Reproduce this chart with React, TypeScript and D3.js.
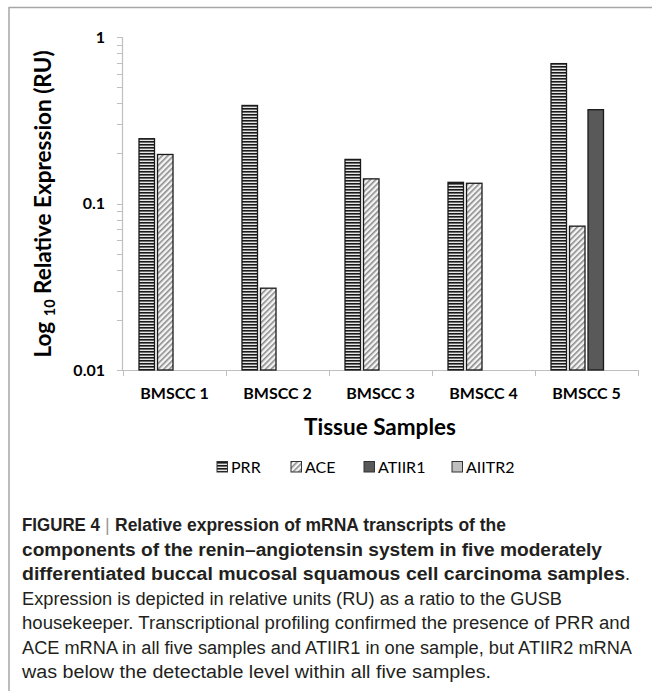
import React from 'react';
import * as d3 from 'd3';

const samples = ['BMSCC 1', 'BMSCC 2', 'BMSCC 3', 'BMSCC 4', 'BMSCC 5'];
const series = ['PRR', 'ACE', 'ATIIR1', 'AIITR2'];
// relative expression (RU); null = below detection
const prr = [0.245, 0.388, 0.184, 0.134, 0.692];
const ace = [0.197, 0.031, 0.1406, 0.1323, 0.0731];
const atiir1 = [null, null, null, null, 0.366];
const aiitr2 = [null, null, null, null, null];
const yTickLabels = ['0.01', '0.1', '1'];

const captionBold = [
  'Relative expression of mRNA transcripts of the',
  'components of the renin\u2013angiotensin system in five moderately',
  'differentiated buccal mucosal squamous cell carcinoma samples',
];
const captionPlain = [
  'Expression is depicted in relative units (RU) as a ratio to the GUSB',
  'housekeeper. Transcriptional profiling confirmed the presence of PRR and',
  'ACE mRNA in all five samples and ATIIR1 in one sample, but ATIIR2 mRNA',
  'was below the detectable level within all five samples.',
];
const captionWidths = [391, 580, 603, 540, 608, 610, 469];

const values = [prr, ace, atiir1, aiitr2];
const fills = ['url(#pat-prr)', 'url(#pat-ace)', '#595959', '#bfbfbf'];

const W = 652;
const H = 691;
const chartFont = 'Lato, "Open Sans", sans-serif';
const capFont = '"Liberation Sans", Arial, sans-serif';
const legendX = [217, 291, 364, 452];

export default function App() {
  const x = d3.scaleBand().domain(samples).range([123, 638]).padding(0);
  const inner = d3
    .scaleBand()
    .domain(series)
    .range([0, x.bandwidth()])
    .paddingInner(0.162)
    .paddingOuter(0.865);
  const y = d3.scaleLog().domain([0.01, 1]).range([370, 37]);
  const ticks = y.ticks();
  const bounds = [...samples.map(s => x(s)!), 638];

  const lineY = (i: number) => 531 + i * 24.5;

  return (
    <svg
      width={W}
      height={H}
      style={{ position: 'absolute', left: 0, top: 0, background: '#fff' }}
    >
      <defs>
        <pattern id="pat-prr" width="4" height="3" patternUnits="userSpaceOnUse">
          <rect width="4" height="3" fill="#e6e6e6" />
          <rect y="0" width="4" height="1.6" fill="#1a1a1a" />
        </pattern>
        <pattern
          id="pat-ace"
          width="4"
          height="4"
          patternUnits="userSpaceOnUse"
          patternTransform="rotate(45)"
        >
          <rect width="4" height="4" fill="#f4f4f4" />
          <rect x="0" width="1.6" height="4" fill="#8c8c8c" />
        </pattern>
      </defs>

      {/* frame */}
      <line x1={9} x2={W} y1={7.5} y2={7.5} stroke="#a6a6a6" strokeWidth={1.5} />
      <line x1={9} x2={9} y1={7} y2={H} stroke="#a6a6a6" strokeWidth={1.5} />

      {/* y axis */}
      <line x1={122.5} x2={122.5} y1={y(1)} y2={y(0.01)} stroke="#bfbfbf" strokeWidth={1.2} />
      {ticks.map((t, i) => (
        <line
          key={i}
          x1={117}
          x2={122.5}
          y1={Math.round(y(t)) + 0.5}
          y2={Math.round(y(t)) + 0.5}
          stroke="#bfbfbf"
          strokeWidth={1}
        />
      ))}
      {yTickLabels.map(l => (
        <text
          key={l}
          x={105}
          y={y(+l)}
          dy="0.35em"
          textAnchor="end"
          fontFamily={chartFont}
          fontWeight="bold"
          fontSize={16}
        >
          {l}
        </text>
      ))}

      {/* x axis */}
      <line x1={122} x2={638.5} y1={370.5} y2={370.5} stroke="#bfbfbf" strokeWidth={1.2} />
      {bounds.map((b, i) => (
        <line key={i} x1={b + 0.5} x2={b + 0.5} y1={370} y2={376} stroke="#bfbfbf" strokeWidth={1} />
      ))}

      {/* bars */}
      {samples.map((s, ci) =>
        series.map((k, si) => {
          const v = values[si][ci];
          if (v == null) return null;
          const bx = x(s)! + inner(k)!;
          return (
            <rect
              key={s + k}
              x={bx}
              y={y(v)}
              width={inner.bandwidth()}
              height={y(0.01) - y(v)}
              fill={fills[si]}
              stroke="#1a1a1a"
              strokeWidth={1.3}
            />
          );
        })
      )}

      {/* x labels */}
      {samples.map(s => (
        <text
          key={s}
          x={x(s)! + x.bandwidth() / 2}
          y={399}
          textAnchor="middle"
          fontFamily={chartFont}
          fontWeight="bold"
          fontSize={16}
        >
          {s}
        </text>
      ))}
      <text
        x={380}
        y={435}
        textAnchor="middle"
        fontFamily={chartFont}
        fontWeight="bold"
        fontSize={22.5}
      >
        Tissue Samples
      </text>

      {/* y title */}
      <text
        transform="translate(51,204) rotate(-90)"
        textAnchor="middle"
        fontFamily={chartFont}
        fontWeight="bold"
        fontSize={22.5}
      >
        Log <tspan fontSize={14.5} dy={4}>10</tspan>
        <tspan dy={-4}> Relative Expression (RU)</tspan>
      </text>

      {/* legend */}
      {series.map((k, i) => (
        <g key={k}>
          <rect
            x={legendX[i]}
            y={461.5}
            width={10.5}
            height={10.5}
            fill={fills[i]}
            stroke="#333"
            strokeWidth={1}
          />
          <text x={legendX[i] + 14} y={472.5} fontFamily={chartFont} fontSize={16}>
            {k}
          </text>
        </g>
      ))}

      {/* caption */}
      <text
        x={22}
        y={lineY(0)}
        fontFamily={capFont}
        fontSize={18}
        fontWeight="bold"
        fill="#231f20"
        textLength={78}
        lengthAdjust="spacingAndGlyphs"
      >
        FIGURE 4
      </text>
      <text x={105} y={lineY(0)} fontFamily={capFont} fontSize={18} fill="#999">
        |
      </text>
      {captionBold.map((l, i) => (
        <text
          key={'b' + i}
          x={i === 0 ? 115 : 22}
          y={lineY(i)}
          fontFamily={capFont}
          fontSize={18}
          fontWeight="bold"
          fill="#231f20"
          textLength={captionWidths[i]}
          lengthAdjust="spacingAndGlyphs"
        >
          {l}
        </text>
      ))}
      <text x={625} y={lineY(2)} fontFamily={capFont} fontSize={18} fill="#231f20">
        .
      </text>
      {captionPlain.map((l, i) => (
        <text
          key={'p' + i}
          x={22}
          y={lineY(i + 3)}
          fontFamily={capFont}
          fontSize={18}
          fill="#231f20"
          textLength={captionWidths[i + 3]}
          lengthAdjust="spacingAndGlyphs"
        >
          {l}
        </text>
      ))}
    </svg>
  );
}
